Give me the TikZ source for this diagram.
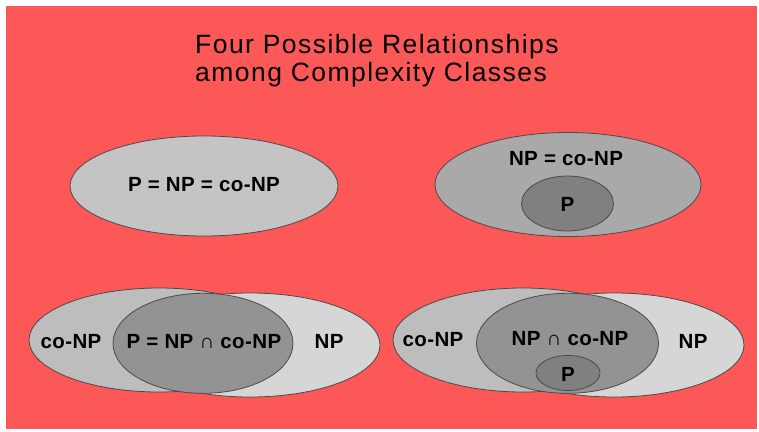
\documentclass[tikz,border=0pt]{standalone}
\usepackage{fontspec}
\usetikzlibrary{shapes.geometric}
\newfontfamily\titlefont[LetterSpace=5.5]{Liberation Sans}
\newfontfamily\setfont[LetterSpace=2]{Liberation Sans}
\definecolor{bgred}{HTML}{FC5858}
\definecolor{rim}{HTML}{4A4A4A}
\definecolor{gone}{HTML}{C4C4C4}
\definecolor{gtwo}{HTML}{A9A9A9}
\definecolor{gco}{HTML}{BDBDBD}
\definecolor{gnp}{HTML}{D6D6D6}
\definecolor{gmid}{HTML}{939393}
\definecolor{gdark}{HTML}{808080}
\tikzset{
 set/.style={ellipse,draw=rim,line width=.8pt,inner sep=0pt},
 lbl/.style={font=\setfont\fontsize{20.5}{24}\selectfont\bfseries,inner sep=0pt},
 ttl/.style={font=\titlefont\fontsize{26.5}{30}\selectfont,inner sep=0pt,anchor=base west}
}
\begin{document}
\begin{tikzpicture}[x=1pt,y=-1pt]
 \useasboundingbox(0,0)rectangle(759,431);
 \fill[white](0,0)rectangle(759,431);
 \fill[bgred](6,6)rectangle(757,429);
 \node[ttl](title1)at(195,53.5){Four Possible Relationships};
 \node[ttl](title2)at(195,81.7){among Complexity Classes};
 % P = NP = co-NP
 \node[set,fill=gone,minimum width=268pt,minimum height=100pt](all)at(204,186){};
 \node[lbl](alltxt)at(204,185){P = NP = co-NP};
 % NP = co-NP, P inside
 \node[set,fill=gtwo,minimum width=266pt,minimum height=104pt](npco)at(568,184.5){};
 \node[set,fill=gdark,minimum width=92pt,minimum height=55pt](pin)at(567.5,203.5){};
 \node[lbl](npcotxt)at(566,158.5){NP = co-NP};
 \node[lbl](ptxt)at(567.5,204){P};
 % P = NP cap co-NP
 \node[set,fill=gco,minimum width=260pt,minimum height=104pt](conpa)at(159,340){};
 \node[set,fill=gnp,minimum width=260pt,minimum height=104pt](npa)at(250,345){};
 \node[set,fill=gmid,minimum width=180pt,minimum height=100pt](capa)at(203,343.3){};
 \node[lbl](conpatxt)at(71,341.5){co-NP};
 \node[lbl](capatxt)at(204,341.5){P = NP ∩ co-NP};
 \node[lbl](npatxt)at(329,341.5){NP};
 % P strictly inside NP cap co-NP
 \node[set,fill=gco,minimum width=260pt,minimum height=104pt](conpb)at(523,340){};
 \node[set,fill=gnp,minimum width=260pt,minimum height=104pt](npb)at(614,345){};
 \node[set,fill=gmid,minimum width=182pt,minimum height=100pt](capb)at(567.5,343.3){};
 \node[set,fill=gdark,minimum width=64pt,minimum height=35pt](pb)at(568,373){};
 \node[lbl](conpbtxt)at(433,340){co-NP};
 \node[lbl](capbtxt)at(570,338.5){NP ∩ co-NP};
 \node[lbl](npbtxt)at(693,341){NP};
 \node[lbl](pbtxt)at(568,374){P};
\end{tikzpicture}
\end{document}
